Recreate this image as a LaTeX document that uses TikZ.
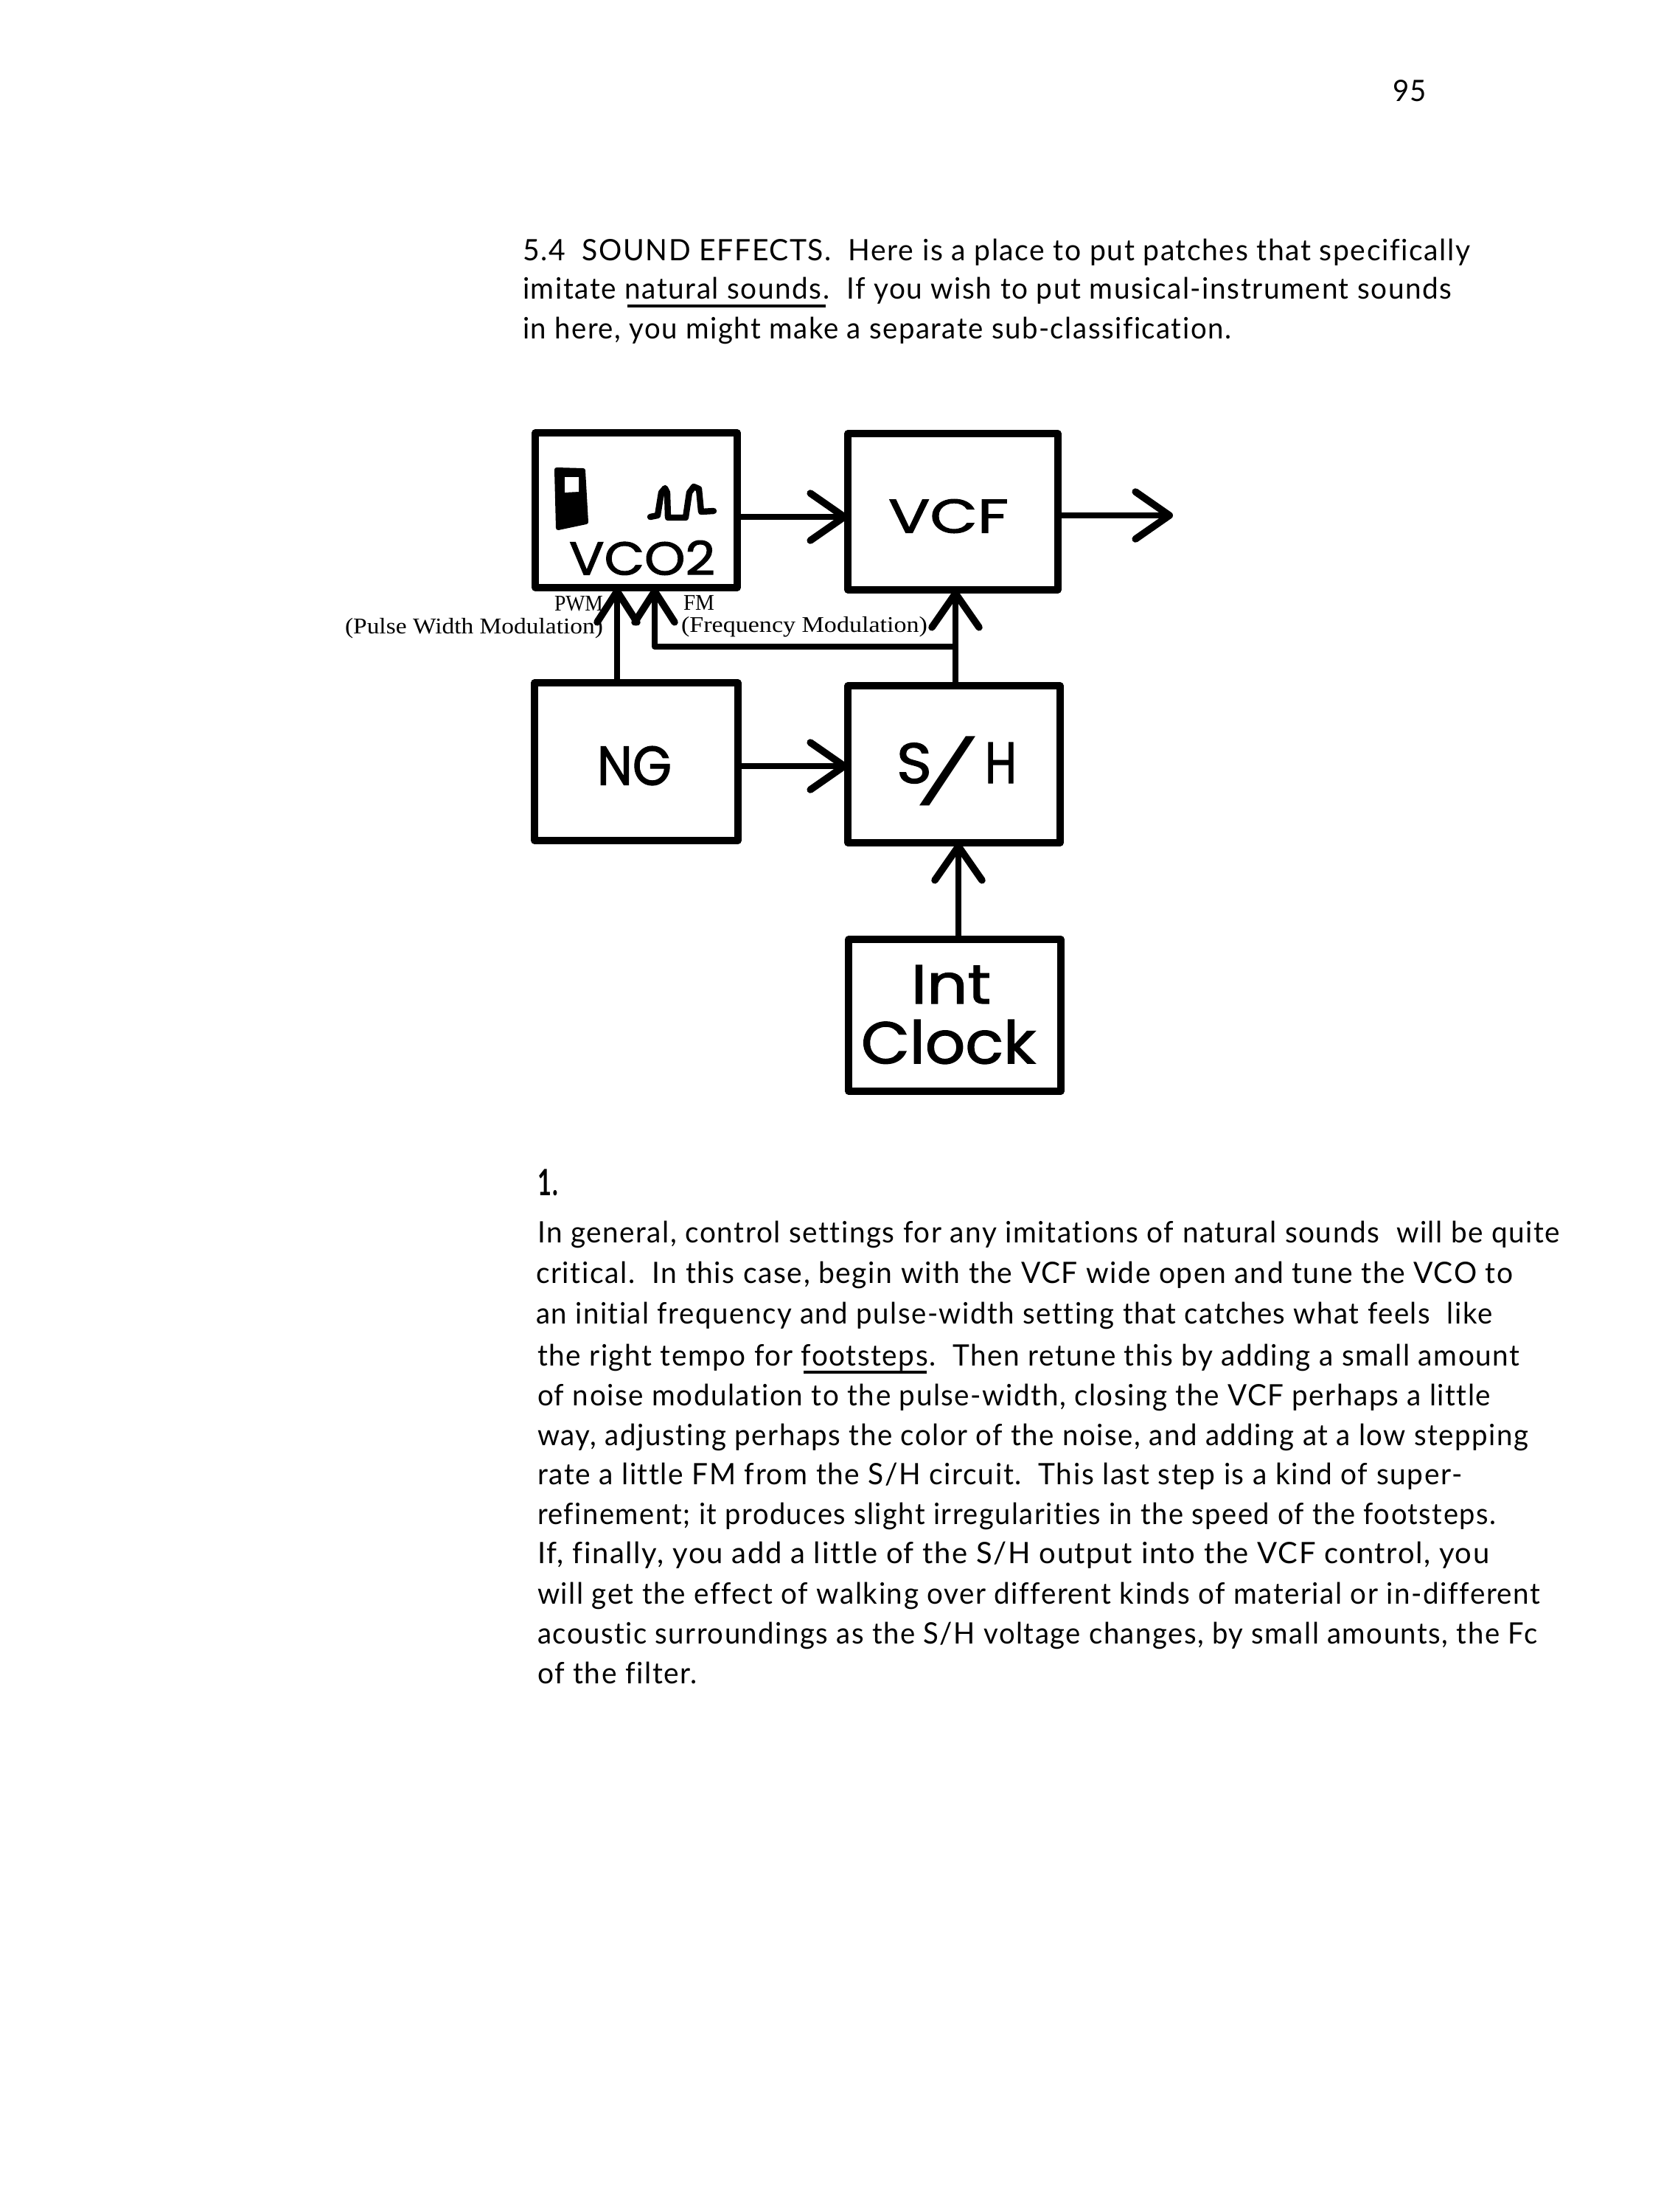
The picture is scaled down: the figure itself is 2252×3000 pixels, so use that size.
\documentclass[tikz,border=0pt]{standalone}
\usepackage{fontspec}
\usepackage{graphicx}
\usetikzlibrary{arrows.meta,calc}
\setmainfont{Lato}[LetterSpace=4,Ligatures=NoCommon,RawFeature={-liga;-clig;-dlig}]
\newfontfamily\serifl{Liberation Serif}
\newfontfamily\hand{Poppins}[FakeBold=1.6]
\newlength\pxu \setlength\pxu{0.25pt}
\newcommand\fitw[2]{\resizebox{#1\pxu}{\height}{#2}}
\newcommand\fitwh[3]{\resizebox*{#1\pxu}{#2\pxu}{#3}}
\tikzset{
  x=0.25pt,y=-0.25pt,
  tx/.style={anchor=base west,inner sep=0pt,outer sep=0pt,font=\fontsize{10pt}{12pt}\selectfont},
  lab/.style={anchor=base west,inner sep=0pt,outer sep=0pt,font=\serifl\fontsize{7.6pt}{9pt}\selectfont},
  hl/.style={inner sep=0pt,outer sep=0pt,font=\hand\fontsize{16pt}{18pt}\selectfont},
  blk/.style={draw=black,line width=2.3pt,line join=round,inner sep=0pt,outer sep=0pt,rectangle},
  wire/.style={draw=black,line width=2pt,line join=round},
  bar/.style={wire,-{Straight Barb[round,length=11.5pt,width=16pt,line width=2.4pt]}},
  barsm/.style={wire,-{Straight Barb[round,length=10.5pt,width=13.5pt,line width=2.4pt]}},
  ul/.style={draw=black,line width=1pt},
}
\begin{document}
\begin{tikzpicture}
\useasboundingbox (0,0) rectangle (2252,3000);
\fill[white] (0,0) rectangle (2252,3000);
% boxes
\node[blk,minimum width=274\pxu,minimum height=210\pxu] (vco) at (863,692) {};
\node[blk,minimum width=285\pxu,minimum height=212\pxu] (vcf) at (1292.5,694) {};
\node[blk,minimum width=276\pxu,minimum height=214\pxu] (ng) at (863,1033) {};
\node[blk,minimum width=288\pxu,minimum height=213\pxu] (sh) at (1294,1036.5) {};
\node[blk,minimum width=288\pxu,minimum height=206\pxu] (clk) at (1295,1377) {};
% hand lettering
\node[hl] (tvco) at (871,756.5) {\fitwh{198}{47}{VCO2}};
\node[hl] (tvcf) at (1286.5,700) {\fitwh{163}{46}{VCF}};
\node[hl] (tng) at (860.5,1038.5) {\fitwh{101}{53}{NG}};
\node[hl,anchor=base west] (tsh) at (1216,1062) {\fitwh{48}{55}{S}\hspace{-17\pxu}\raisebox{-31\pxu}{\resizebox*{76\pxu}{94\pxu}{\raisebox{\depth}{\serifl /}}}\hspace{13\pxu}\fitwh{43}{55}{H}};
\node[hl] (tint) at (1290,1335) {\fitwh{108}{52}{Int}};
\node[hl] (tclk) at (1286.5,1413) {\fitwh{237}{60}{Clock}};
% VCO symbols
\fill[black,draw=black,line width=1.5pt,line join=round] (755,637) -- (791,638) -- (795,708) -- (757,716) -- cycle;
\fill[white] (766,647) -- (785,647) -- (785,667) -- (766,668) -- cycle;
\draw[wire,line width=2.1pt,line cap=round] (882,701) -- (892,699) -- (897,668) -- (902,662) -- (905,668) -- (906,702) -- (930,702) -- (935,668) -- (941,660) -- (948,663) -- (951,694) -- (968,693);
% connectors
\draw[bar] ($(vco.east)+(0,9)$) -- ($(vcf.west)+(0,7)$);
\coordinate (outp) at ($(vcf.east)+(156,5)$);
\draw[bar] ($(vcf.east)+(0,5)$) -- (outp);
\draw[bar] ($(ng.east)+(0,6)$) -- ($(sh.west)+(0,2.5)$);
\draw[bar] ($(clk.north)+(5,0)$) -- ($(sh.south)+(6,0)$);
\draw[barsm] ($(ng.north)+(-26,0)$) -- ($(vco.south)+(-26,0)$);
\draw[bar] ($(sh.north)+(2,0)$) -- ($(vcf.south)+(3.5,0)$);
\coordinate (fmj) at ($(sh.north)+(2,-53)$);
\draw[barsm] (fmj) -| ($(vco.south)+(25,0)$);
% small labels
\node[lab] (pwm) at (752,828) {\fitw{66}{PWM}};
\node[lab] (pwl) at (468,859) {\fitw{350}{(Pulse Width Modulation)}};
\node[lab] (fm) at (927,827) {\fitw{42}{FM}};
\node[lab] (fml) at (924,857) {\fitw{334}{(Frequency Modulation)}};
% text
\node[tx] (pg) at (1889,137) {\fitw{46}{95}};
\node[tx] (a1) at (709,353) {\fitw{1285}{5.4\ \ SOUND EFFECTS.\ \ Here is a place to put patches that specifically}};
\node[tx] (a2) at (709,405) {\fitw{1260}{imitate natural sounds.\ \ If you wish to put musical-instrument sounds}};
\node[tx] (a3) at (709,459) {\fitw{961}{in here, you might make a separate sub-classification.}};
\draw[ul] (851,415) -- (1120,415);
\node[tx,font=\bfseries\fontsize{10pt}{12pt}\selectfont] (num) at (729,1621) {\fitwh{28}{36}{1.}};
\node[tx] (b1) at (729,1685) {\fitw{1387}{In general, control settings for any imitations of natural sounds\ \ will be quite}};
\node[tx] (b2) at (727,1740) {\fitw{1325}{critical.\ \ In this case, begin with the VCF wide open and tune the VCO to}};
\node[tx] (b3) at (727,1795) {\fitw{1297}{an initial frequency and pulse-width setting that catches what feels\ \ like}};
\node[tx] (b4) at (729,1852) {\fitw{1332}{the right tempo for footsteps.\ \ Then retune this by adding a small amount}};
\draw[ul] (1090,1861) -- (1257,1861);
\node[tx] (b5) at (729,1906) {\fitw{1293}{of noise modulation to the pulse-width, closing the VCF perhaps a little}};
\node[tx] (b6) at (729,1960) {\fitw{1344}{way, adjusting perhaps the color of the noise, and adding at a low stepping}};
\node[tx] (b7) at (729,2013) {\fitw{1254}{rate a little FM from the S/H circuit.\ \ This last step is a kind of super-}};
\node[tx] (b8) at (729,2067) {\fitw{1300}{refinement; it produces slight irregularities in the speed of the footsteps.}};
\node[tx] (b9) at (729,2120) {\fitw{1291}{If, finally, you add a little of the S/H output into the VCF control, you}};
\node[tx] (b10) at (729,2175) {\fitw{1360}{will get the effect of walking over different kinds of material or in-different}};
\node[tx] (b11) at (729,2229) {\fitw{1356}{acoustic surroundings as the S/H voltage changes, by small amounts, the Fc}};
\node[tx] (b12) at (729,2283) {\fitw{217}{of the filter.}};
\end{tikzpicture}
\end{document}
